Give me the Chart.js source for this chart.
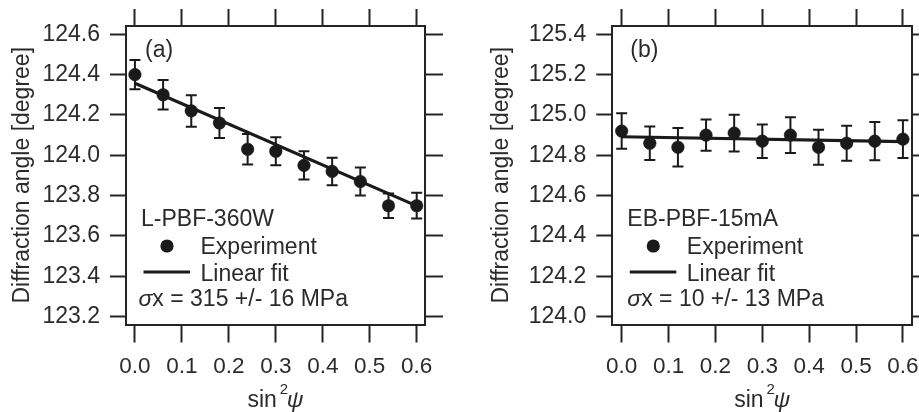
<!DOCTYPE html>
<html><head><meta charset="utf-8">
<script src="https://cdn.jsdelivr.net/npm/chart.js@4.4.1/dist/chart.umd.min.js"></script>
<style>
body{margin:0;background:#fff;}
#wrap{position:relative;width:919px;height:412px;overflow:hidden;}
.c{position:absolute;top:0;height:412px;}
#ca{left:0;width:460px;}
#cb{left:460px;width:459px;}
</style>
</head><body>
<div id="wrap"><div class="c" id="ca"><canvas id="a" width="460" height="412"></canvas></div><div class="c" id="cb"><canvas id="b" width="459" height="412"></canvas></div></div>
<script>
// ---- data ----
const sin2psi = [0, 0.06, 0.12, 0.18, 0.24, 0.30, 0.36, 0.42, 0.48, 0.54, 0.60];
const angleA  = [124.40, 124.30, 124.22, 124.16, 124.03, 124.02, 123.95, 123.92, 123.87, 123.75, 123.75];
const errA    = [0.073, 0.073, 0.078, 0.074, 0.076, 0.070, 0.070, 0.068, 0.069, 0.061, 0.064];
const angleB  = [124.92, 124.86, 124.84, 124.90, 124.91, 124.87, 124.90, 124.84, 124.86, 124.87, 124.88];
const errB    = [0.088, 0.083, 0.095, 0.078, 0.091, 0.083, 0.089, 0.087, 0.087, 0.095, 0.094];
const fitX    = [0, 0.6];
const fitA    = [124.357, 123.749];
const fitB    = [124.892, 124.868];
const xTicks  = [0, 0.1, 0.2, 0.3, 0.4, 0.5, 0.6];
const yTicksA = [123.2, 123.4, 123.6, 123.8, 124.0, 124.2, 124.4, 124.6];
const yTicksB = [124.0, 124.2, 124.4, 124.6, 124.8, 125.0, 125.2, 125.4];
const panelA = {tag: '(a)', sample: 'L-PBF-360W', stress: 'x = 315 +/- 16 MPa'};
const panelB = {tag: '(b)', sample: 'EB-PBF-15mA', stress: 'x = 10 +/- 13 MPa'};
const legendLabels = ['Experiment', 'Linear fit'];
const yTitle = 'Diffraction angle [degree]';

const FONT = '"Liberation Sans", Arial, Helvetica, sans-serif';
const INK = '#242424', TXT = '#2b2b2b', MARK = '#1a1a1a';
Chart.defaults.font.family = FONT;

function makeChart(id, ys, errs, fit, yTicks, panel, geo) {
  const annot = {
    id: 'annot' + id,
    beforeDatasetsDraw(chart) {
      const {ctx, scales: {x, y}} = chart;
      ctx.save();
      ctx.strokeStyle = MARK; ctx.lineWidth = 2;
      sin2psi.forEach((xv, i) => {
        const px = x.getPixelForValue(xv);
        const y1 = y.getPixelForValue(ys[i] - errs[i]);
        const y2 = y.getPixelForValue(ys[i] + errs[i]);
        ctx.beginPath();
        ctx.moveTo(px, y1); ctx.lineTo(px, y2);
        ctx.moveTo(px - 5.5, y1); ctx.lineTo(px + 5.5, y1);
        ctx.moveTo(px - 5.5, y2); ctx.lineTo(px + 5.5, y2);
        ctx.stroke();
      });
      ctx.restore();
    },
    afterDraw(chart) {
      const {ctx, chartArea: ca} = chart;
      const L = ca.left;
      ctx.save();
      ctx.fillStyle = TXT;
      ctx.textBaseline = 'alphabetic';
      ctx.textAlign = 'left';
      ctx.font = '23px ' + FONT;
      ctx.fillText(panel.tag, L + geo.tagDx, 57);
      ctx.fillText(panel.sample, L + 15, 226);
      // marker legend
      ctx.fillStyle = MARK;
      ctx.beginPath(); ctx.arc(L + 41, 246, 6.6, 0, Math.PI * 2); ctx.fill();
      ctx.fillStyle = TXT;
      ctx.fillText(legendLabels[0], L + 74.5, 254);
      ctx.strokeStyle = MARK; ctx.lineWidth = 3;
      ctx.beginPath(); ctx.moveTo(L + 17.5, 272); ctx.lineTo(L + 64, 272); ctx.stroke();
      ctx.fillText(legendLabels[1], L + 74.5, 281);
      ctx.font = 'italic 23px ' + FONT;
      const sx = L + geo.sigDx;
      ctx.fillText('\u03C3', sx, 306);
      const ws = ctx.measureText('\u03C3').width;
      ctx.font = '23px ' + FONT;
      ctx.fillText(panel.stress, sx + ws, 306);
      // x title sin^2 psi
      ctx.font = '23px ' + FONT;
      const wSin = ctx.measureText('sin').width;
      ctx.font = 'italic 23px ' + FONT;
      const wPsi = ctx.measureText('\u03C8').width;
      const total = wSin + 10 + wPsi;
      const x0 = (ca.left + ca.right) / 2 - total / 2;
      ctx.font = '23px ' + FONT;
      ctx.fillText('sin', x0, 407);
      ctx.font = '15px ' + FONT;
      ctx.fillText('2', x0 + wSin + 3, 394);
      ctx.font = 'italic 23px ' + FONT;
      ctx.fillText('\u03C8', x0 + wSin + 10, 407);
      ctx.restore();
    }
  };
  const setTicks = vals => s => { s.ticks = vals.map(v => ({value: v})); };
  const gridOpt = len => ({drawOnChartArea: false, drawTicks: true, tickLength: len, tickWidth: 2, tickColor: INK});
  const border = {display: true, width: 2, color: INK};
  return new Chart(document.getElementById(id), {
    type: 'scatter',
    data: {
      datasets: [
        {data: fitX.map((v, i) => ({x: v, y: fit[i]})), showLine: true, borderColor: MARK, borderWidth: 3.2,
         pointRadius: 0, pointHoverRadius: 0, fill: false, order: 2},
        {data: sin2psi.map((v, i) => ({x: v, y: ys[i]})), backgroundColor: MARK, borderColor: MARK,
         pointRadius: 6.3, borderWidth: 0.5, order: 1}
      ]
    },
    options: {
      responsive: false, animation: false,
      layout: {padding: 0},
      plugins: {legend: {display: false}, tooltip: {enabled: false}},
      scales: {
        x: {type: 'linear', position: 'bottom', min: geo.xmin, max: geo.xmax,
            afterBuildTicks: setTicks(xTicks),
            ticks: {callback: v => v.toFixed(1), font: {size: 22.5, family: FONT}, color: TXT, padding: 11, maxRotation: 0, autoSkip: false},
            grid: gridOpt(18), border,
            afterFit: s => { s.height = 412 - geo.bottom; s.paddingLeft = 0; s.paddingRight = 0; }},
        x2: {type: 'linear', position: 'top', min: geo.xmin, max: geo.xmax,
            afterBuildTicks: setTicks(xTicks),
            ticks: {display: false}, grid: gridOpt(17), border,
            afterFit: s => { s.height = geo.top; s.paddingLeft = 0; s.paddingRight = 0; }},
        y: {type: 'linear', position: 'left', min: geo.ymin, max: geo.ymax,
            afterBuildTicks: setTicks(yTicks),
            ticks: {callback: v => v.toFixed(1), font: {size: 23, family: FONT}, color: TXT, padding: 10, autoSkip: false},
            grid: gridOpt(16), border,
            title: {display: true, text: yTitle, color: TXT, font: {size: 23, family: FONT}, padding: {top: geo.titlePad, bottom: 0}},
            afterFit: s => { s.width = geo.left; s.paddingTop = 0; s.paddingBottom = 0; }},
        y2: {type: 'linear', position: 'right', min: geo.ymin, max: geo.ymax,
            afterBuildTicks: setTicks(yTicks),
            ticks: {display: false}, grid: gridOpt(18), border,
            afterFit: s => { s.width = geo.rightW; s.paddingTop = 0; s.paddingBottom = 0; }}
      }
    },
    plugins: [annot]
  });
}

makeChart('a', angleA, errA, fitA, yTicksA, panelA,
  {xmin: -0.019, xmax: 0.6177, ymin: 123.161, ymax: 124.641, left: 126, rightW: 35, top: 26, bottom: 324.5, titlePad: 9, tagDx: 19, sigDx: 12.5});
makeChart('b', angleB, errB, fitB, yTicksB, panelB,
  {xmin: -0.020, xmax: 0.6198, ymin: 123.961, ymax: 125.441, left: 152.3, rightW: 5.7, top: 26, bottom: 324.5, titlePad: 28, tagDx: 18, sigDx: 15});
</script>
</body></html>
